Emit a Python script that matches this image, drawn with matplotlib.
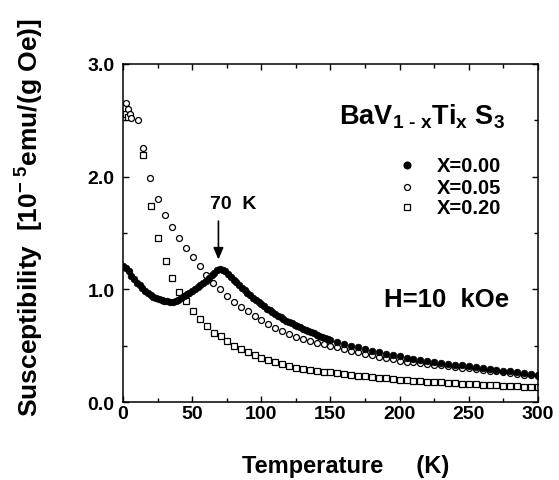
import numpy as np
import matplotlib
matplotlib.use("Agg")
import matplotlib.pyplot as plt

plt.rcParams['font.family'] = ['Liberation Sans', 'DejaVu Sans']
plt.rcParams['font.weight'] = 'bold'
plt.rcParams['mathtext.fontset'] = 'custom'
plt.rcParams['mathtext.rm'] = 'Liberation Sans:bold'
plt.rcParams['mathtext.it'] = 'Liberation Sans:bold'
plt.rcParams['mathtext.bf'] = 'Liberation Sans:bold'
plt.rcParams['mathtext.default'] = 'rm'

# X = 0.00 (dense, filled dots)
t0 = [0, 2, 4, 6, 8, 10, 12, 14, 16, 18, 20, 22, 24, 26, 28, 30, 32, 34, 36, 38,
      40, 42, 44, 46, 48, 50, 52, 54, 56, 58, 60, 62, 64, 66, 68, 70, 72, 74, 76, 78,
      80, 82, 84, 86, 88, 90, 92, 94, 96, 98, 100, 102, 104, 106, 108, 110, 112, 114,
      116, 118, 120, 122, 124, 126, 128, 130, 132, 134, 136, 138, 140, 142, 144, 146,
      148, 150, 155, 160, 165, 170, 175, 180, 185, 190, 195, 200, 205, 210, 215, 220,
      225, 230, 235, 240, 245, 250, 255, 260, 265, 270, 275, 280, 285, 290, 295, 300]
chi0 = [1.21, 1.19, 1.16, 1.12, 1.09, 1.06, 1.035, 1.01, 0.985, 0.965, 0.948, 0.935,
        0.923, 0.914, 0.907, 0.901, 0.896, 0.892, 0.891, 0.895, 0.908, 0.924, 0.94,
        0.956, 0.971, 0.986, 1.001, 1.017, 1.035, 1.054, 1.076, 1.10, 1.124, 1.148,
        1.168, 1.18, 1.175, 1.16, 1.137, 1.11, 1.085, 1.062, 1.038, 1.014, 0.991,
        0.969, 0.948, 0.927, 0.906, 0.886, 0.867, 0.848, 0.83, 0.813, 0.797, 0.781,
        0.766, 0.751, 0.737, 0.723, 0.71, 0.698, 0.686, 0.674, 0.662, 0.651, 0.64,
        0.629, 0.619, 0.609, 0.599, 0.59, 0.581, 0.572, 0.563, 0.555, 0.536, 0.518,
        0.501, 0.485, 0.47, 0.456, 0.443, 0.43, 0.418, 0.405, 0.394, 0.383, 0.373,
        0.364, 0.355, 0.347, 0.339, 0.332, 0.325, 0.318, 0.31, 0.302, 0.294, 0.286,
        0.279, 0.272, 0.265, 0.258, 0.251, 0.244]

# X = 0.05 (open circles)
t5 = [2.4, 3.6, 4.8, 6, 10.8, 14.5, 19.8, 25.3, 30.6, 35.7, 40.2, 45.3, 50.6, 55.4,
      60.3, 65, 70.4, 75.4, 80.3, 85, 90.4, 95.2, 100, 105, 110, 115, 120, 125, 130,
      135, 140, 145, 150, 155, 160, 165, 170, 175, 180, 185, 190, 195, 200, 205, 210,
      215, 220, 225, 230, 235, 240, 245, 250, 255, 260, 265, 270, 275, 280, 285, 290,
      295, 300]
chi5 = [2.65, 2.60, 2.56, 2.52, 2.50, 2.25, 1.99, 1.80, 1.66, 1.55, 1.46, 1.37, 1.29,
        1.21, 1.13, 1.06, 1.00, 0.94, 0.89, 0.845, 0.805, 0.765, 0.73, 0.695, 0.66,
        0.635, 0.605, 0.58, 0.56, 0.545, 0.528, 0.512, 0.50, 0.485, 0.47, 0.456, 0.442,
        0.429, 0.416, 0.403, 0.391, 0.379, 0.367, 0.36, 0.353, 0.346, 0.339, 0.332,
        0.325, 0.318, 0.312, 0.306, 0.30, 0.293, 0.286, 0.279, 0.272, 0.265, 0.258,
        0.251, 0.244, 0.237, 0.23]

# X = 0.20 (open squares)
t20 = [2.4, 3.6, 14.5, 20.0, 25.4, 30.8, 35.7, 40.4, 45.4, 50.7, 55.6, 60.4, 65.5,
       70.6, 75.4, 80.3, 85, 90.4, 95.2, 100, 105, 110, 115, 120, 125, 130, 135, 140,
       145, 150, 155, 160, 165, 170, 175, 180, 185, 190, 195, 200, 205, 210, 215, 220,
       225, 230, 235, 240, 245, 250, 255, 260, 265, 270, 275, 280, 285, 290, 295, 300]
chi20 = [2.56, 2.53, 2.19, 1.74, 1.455, 1.252, 1.10, 0.98, 0.895, 0.81, 0.738, 0.675,
         0.615, 0.588, 0.54, 0.50, 0.47, 0.44, 0.415, 0.395, 0.375, 0.355, 0.335,
         0.318, 0.305, 0.295, 0.285, 0.277, 0.27, 0.263, 0.255, 0.248, 0.241, 0.235,
         0.229, 0.223, 0.217, 0.211, 0.205, 0.20, 0.195, 0.19, 0.186, 0.182, 0.178,
         0.174, 0.171, 0.167, 0.164, 0.16, 0.157, 0.154, 0.151, 0.148, 0.145, 0.142,
         0.139, 0.136, 0.133, 0.13]

legend_labels = ['X=0.00', 'X=0.05', 'X=0.20']

fig = plt.figure(figsize=(5.59, 4.81), dpi=100)
ax = fig.add_axes([0.22, 0.162, 0.7424, 0.703])

ax.plot(t20, chi20, ls='none', marker='s', ms=3.8, mfc='white', mec='black', mew=0.9)
ax.plot(t5, chi5, ls='none', marker='o', ms=4.3, mfc='white', mec='black', mew=0.9)
ax.plot(t0, chi0, ls='none', marker='o', ms=4.8, mfc='black', mec='black', mew=0.5)

ax.set_xlim(0, 300)
ax.set_ylim(0, 3.0)
ax.set_xticks([0, 50, 100, 150, 200, 250, 300])
ax.set_xticks(np.arange(25, 300, 50), minor=True)
ax.set_yticks([0, 1, 2, 3])
ax.set_yticklabels(['0.0', '1.0', '2.0', '3.0'])
ax.set_yticks([0.5, 1.5, 2.5], minor=True)
ax.tick_params(which='both', direction='in', top=True, right=True, width=1.0,
               labelsize=14)
ax.tick_params(which='major', length=4.5)
ax.tick_params(which='minor', length=3)
ax.tick_params(axis='x', pad=2)
ax.tick_params(axis='y', pad=6)
for lbl in ax.get_xticklabels() + ax.get_yticklabels():
    lbl.set_fontweight('bold')
for s in ax.spines.values():
    s.set_linewidth(1.1)

# legend drawn by hand
leg_y = [2.10, 1.905, 1.73]
ax.plot([205], [leg_y[0]], marker='o', ms=4.8, mfc='black', mec='black', ls='none')
ax.plot([205], [leg_y[1]], marker='o', ms=4.3, mfc='white', mec='black', mew=0.9, ls='none')
ax.plot([205], [leg_y[2]], marker='s', ms=3.8, mfc='white', mec='black', mew=0.9, ls='none')
for yy, lab in zip(leg_y, legend_labels):
    ax.text(227, yy, lab, fontsize=14.5, fontweight='bold', va='center', ha='left')

ax.text(156, 2.47, 'BaV$_{1\\ \u2010\\ x}$Ti$_{x}$ S$_{3}$', fontsize=19.5,
        fontweight='bold', ha='left', va='baseline')
ax.text(189, 0.915, 'H=10  kOe', fontsize=18.5, fontweight='bold', ha='left', va='center')
ax.text(80, 1.76, '70  K', fontsize=14, fontweight='bold', ha='center', va='center')
ax.annotate('', xy=(69, 1.24), xytext=(69, 1.63),
            arrowprops=dict(arrowstyle='-|>,head_length=0.7,head_width=0.3',
                            color='black', lw=1.2))

fig.text(0.619, 0.03, 'Temperature     (K)', fontsize=17, fontweight='bold',
         ha='center', va='center')
fig.text(0.053, 0.548, r'Susceptibility  [10$^{-\ 5}$emu/(g Oe)]', fontsize=19,
         fontweight='bold', rotation=90, ha='center', va='center')

fig.savefig('out.png', dpi=100)
